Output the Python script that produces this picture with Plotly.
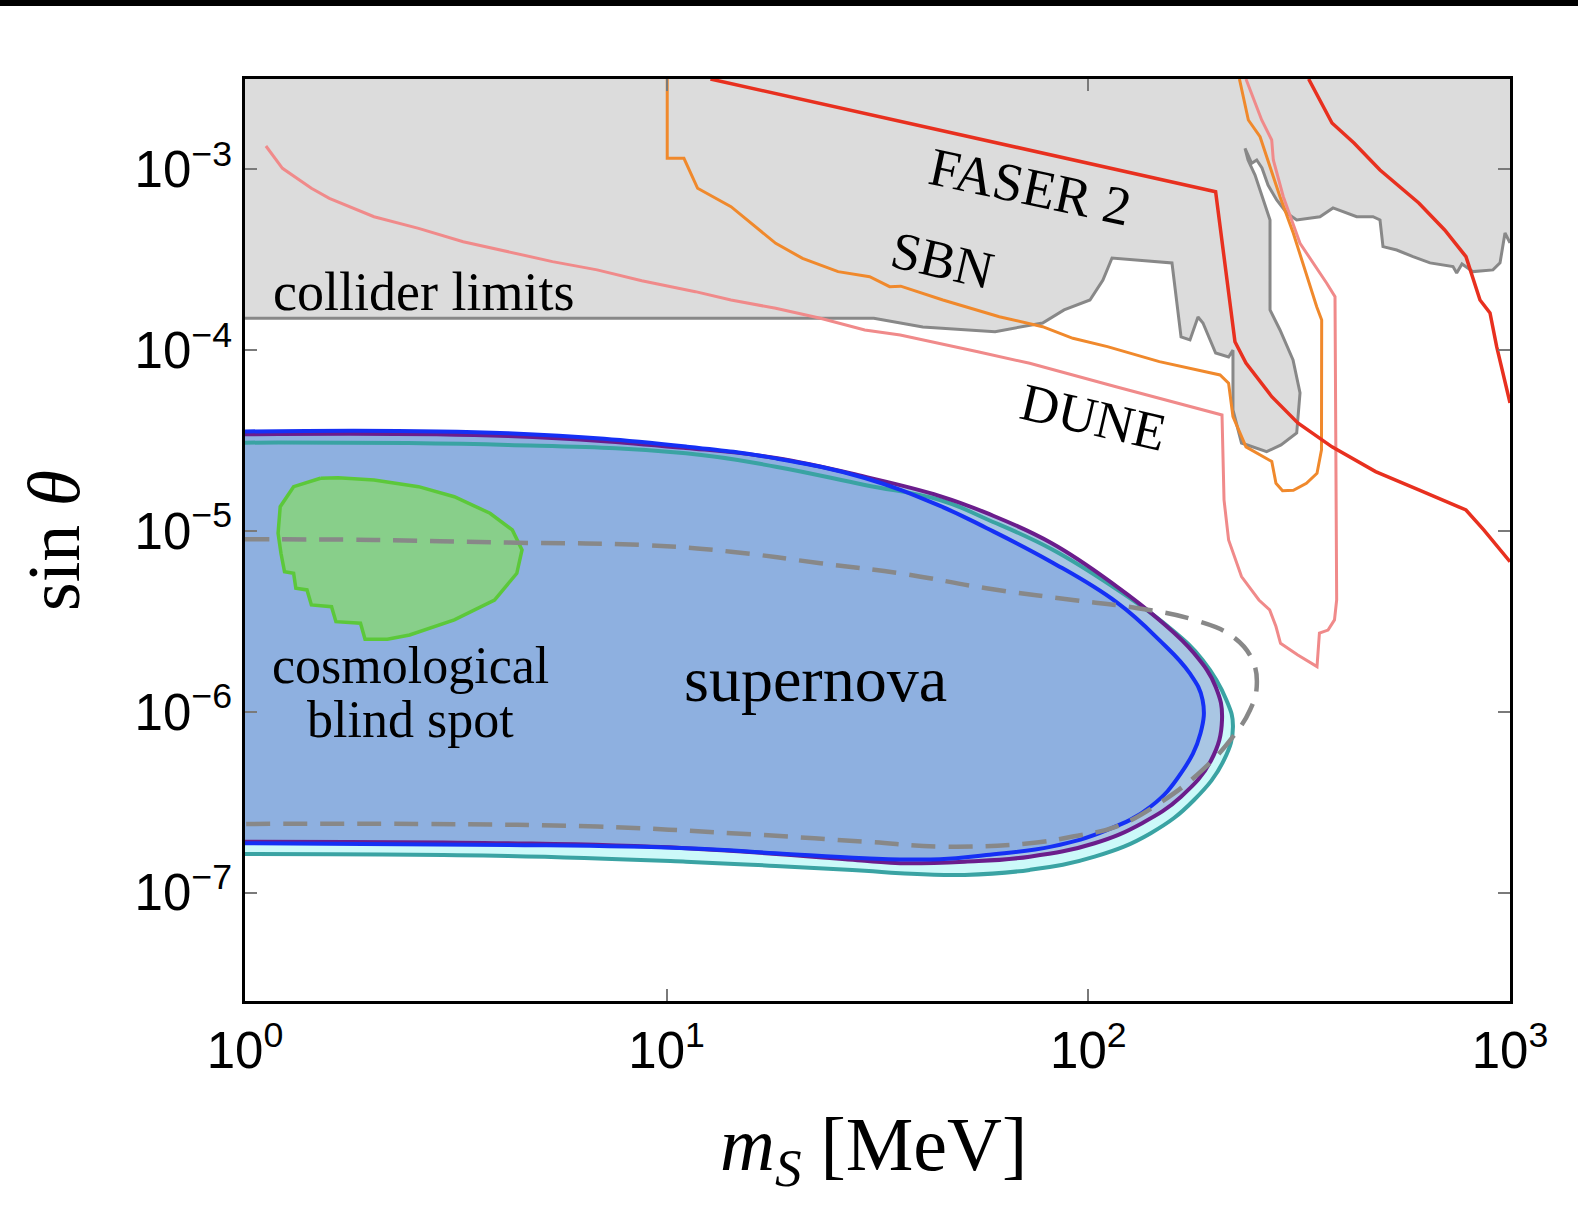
import plotly.graph_objects as go

# ---------------- data (m_S in MeV, sin(theta)) ----------------
collider_m = [1, 1, 31.0, 40.5, 60.1, 77.9, 87.6, 100.9, 108.3, 113.8, 157.9, 165.9, 174.2, 182.0, 187.0,
              200.4, 215.1, 220.3, 220.3, 230.8, 264.8, 286.4, 312.0, 317.7, 305.8, 284.8, 269.7, 269.7,
              258.1, 248.5, 239.2, 235.3, 244.0, 250.8, 258.1, 266.8, 279.7, 295.4, 312.0, 354.3, 380.4,
              432.9, 473.3, 491.7, 499.8, 538.7, 588.9, 646.1, 732.5, 747.4, 769.4, 817.1, 911.3, 947,
              973, 1000, 1000]
collider_s = [3.162e-3, 1.501e-4, 1.501e-4, 1.344e-4, 1.266e-4, 1.414e-4, 1.669e-4, 1.895e-4, 2.445e-4,
              3.236e-4, 3.036e-4, 1.183e-4, 1.139e-4, 1.526e-4, 1.414e-4, 9.65e-5, 9.17e-5, 1.0e-4,
              4.67e-5, 3.067e-5, 2.746e-5, 2.99e-5, 3.48e-5, 5.80e-5, 8.83e-5, 1.293e-4, 1.669e-4,
              5.25e-4, 7.22e-4, 9.31e-4, 1.127e-3, 1.308e-3, 1.081e-3, 1.127e-3, 1.018e-3, 8.19e-4,
              6.77e-4, 5.74e-4, 5.25e-4, 5.47e-4, 6.12e-4, 5.47e-4, 5.47e-4, 5.25e-4, 3.74e-4, 3.58e-4,
              3.29e-4, 3.04e-4, 2.90e-4, 2.67e-4, 3.0e-4, 2.72e-4, 2.78e-4, 3.04e-4, 4.45e-4, 3.92e-4,
              3.162e-3]

faser_m1 = [12.70, 200.4, 222.7, 236.5, 272.3, 313.9, 378.3, 480, 607.7, 786.3, 866.4, 1000]
faser_s1 = [3.162e-3, 7.53e-4, 1.114e-4, 8.49e-5, 5.53e-5, 3.96e-5, 2.92e-5, 2.13e-5, 1.686e-5,
            1.306e-5, 1.013e-5, 6.76e-6]
faser_m2 = [333.0, 378.3, 426.6, 491.7, 607.7, 700, 786.3, 848.9, 896.6, 929.8, 1000]
faser_s2 = [3.162e-3, 1.805e-3, 1.40e-3, 9.92e-4, 6.52e-4, 4.62e-4, 3.29e-4, 1.895e-4, 1.606e-4,
            1.046e-4, 5.11e-5]

sbn_m = [10.03, 10.03, 10.99, 11.84, 14.21, 18.14, 21.0, 25.5, 30.3, 33.8, 35.9, 45.2, 61.5, 77.9, 91.9,
         111.0, 147.4, 205.3, 215.1, 220.3, 236.5, 272.3, 278.6, 288.8, 306.4, 329.0, 348.6, 357.2,
         357.6, 348.0, 306.3, 284.8, 269.7, 255.4, 239.6, 228.2]
sbn_s = [3.162e-3, 1.151e-3, 1.151e-3, 7.86e-4, 6.22e-4, 3.90e-4, 3.22e-4, 2.72e-4, 2.55e-4, 2.245e-4,
         2.26e-4, 1.895e-4, 1.532e-4, 1.349e-4, 1.163e-4, 1.046e-4, 8.64e-5, 7.29e-5, 6.56e-5, 4.29e-5,
         2.92e-5, 2.42e-5, 1.836e-5, 1.671e-5, 1.68e-5, 1.836e-5, 2.085e-5, 2.805e-5, 1.469e-4, 1.74e-4,
         4.43e-4, 7.06e-4, 1.035e-3, 1.517e-3, 1.876e-3, 3.162e-3]

dune_m = [1.121, 1.227, 1.437, 1.585, 2.023, 2.580, 3.292, 4.204, 5.36, 6.84, 8.73, 11.70, 14.21, 18.14,
          23.15, 29.5, 35.8, 54.7, 72.6, 116.3, 207.5, 209.8, 215.1, 230.8, 253.8, 269.2, 278.6, 285.6,
          313.9, 348.6, 353.2, 370.2, 383.5, 388.1, 384.6, 367.6, 317.7, 290.0, 274.6, 272.2, 257.7, 236.5]
dune_s = [1.347e-3, 1.014e-3, 7.86e-4, 6.92e-4, 5.47e-4, 4.72e-4, 3.98e-4, 3.51e-4, 3.09e-4, 2.78e-4,
          2.42e-4, 2.107e-4, 1.895e-4, 1.705e-4, 1.501e-4, 1.293e-4, 1.214e-4, 9.81e-5, 8.46e-5, 6.28e-5,
          4.38e-5, 1.484e-5, 8.92e-6, 5.59e-6, 4.15e-6, 3.66e-6, 2.96e-6, 2.39e-6, 2.06e-6, 1.776e-6,
          2.72e-6, 2.83e-6, 3.22e-6, 4.15e-6, 1.976e-4, 2.344e-4, 3.90e-4, 7.06e-4, 1.127e-3, 1.454e-3,
          1.876e-3, 3.162e-3]

blue_m = [1, 4.205, 11.11, 18.14, 29.5, 44.5, 57.3, 81.7, 116.4, 147.4, 173.9, 186.6, 184.5, 165.9,
          140.6, 111.0, 81.7, 57.3, 44.5, 29.5, 18.14, 11.11, 4.205, 1]
blue_s = [3.55e-5, 3.47e-5, 2.93e-5, 2.52e-5, 1.964e-5, 1.375e-5, 1.039e-5, 6.74e-6, 4.05e-6, 2.49e-6,
          1.633e-6, 1.162e-6, 7.60e-7, 4.57e-7, 2.99e-7, 2.22e-7, 1.795e-7, 1.614e-7, 1.528e-7, 1.547e-7,
          1.65e-7, 1.758e-7, 1.834e-7, 1.874e-7]

purple_m = [1, 4.205, 11.11, 18.14, 29.5, 44.5, 57.3, 81.7, 116.4, 147.4, 178.1, 200.4, 207.5, 195.7,
            165.9, 134.1, 103.5, 72.6, 50.9, 35.8, 29.5, 11.11, 4.205, 1]
purple_s = [3.425e-5, 3.35e-5, 2.877e-5, 2.533e-5, 1.996e-5, 1.56e-5, 1.258e-5, 8.58e-6, 4.96e-6, 3.22e-6,
            2.106e-6, 1.377e-6, 9.01e-7, 5.41e-7, 3.39e-7, 2.42e-7, 1.874e-7, 1.579e-7, 1.482e-7,
            1.452e-7, 1.50e-7, 1.758e-7, 1.874e-7, 1.912e-7]

teal_m = [1, 4.205, 11.11, 18.14, 29.5, 44.5, 57.3, 81.7, 116.4, 154.5, 186.6, 212.5, 220.3, 209.8,
          178.1, 140.6, 103.5, 72.6, 50.9, 35.8, 29.5, 18.14, 11.11, 4.205, 1]
teal_s = [3.08e-5, 2.99e-5, 2.69e-5, 2.268e-5, 1.796e-5, 1.484e-5, 1.165e-5, 7.95e-6, 4.78e-6, 2.96e-6,
          1.934e-6, 1.162e-6, 8.27e-7, 5.41e-7, 3.25e-7, 2.13e-7, 1.579e-7, 1.334e-7, 1.251e-7, 1.279e-7,
          1.321e-7, 1.403e-7, 1.482e-7, 1.594e-7, 1.635e-7]

dash_m = [1, 2.023, 4.205, 8.73, 14.21, 23.15, 35.8, 57.3, 91.9, 131.0, 178.1, 220.3, 244.9, 250.8,
          241.8, 220.3, 186.6, 147.4, 116.4, 91.9, 72.6, 45.2, 29.5, 14.21, 6.84, 2.580, 1]
dash_s = [9.0e-6, 8.92e-6, 8.62e-6, 8.37e-6, 7.68e-6, 6.63e-6, 5.83e-6, 4.82e-6, 4.15e-6, 3.74e-6,
          3.22e-6, 2.60e-6, 1.934e-6, 1.377e-6, 1.023e-6, 7.28e-7, 4.77e-7, 3.12e-7, 2.315e-7, 2.04e-7,
          1.874e-7, 1.795e-7, 1.912e-7, 2.13e-7, 2.315e-7, 2.395e-7, 2.395e-7]

green_m = [1.510, 1.662, 2.023, 2.580, 3.136, 3.811, 4.305, 4.539, 4.412, 3.906, 3.136, 2.457, 2.176, 1.926,
           1.879, 1.643, 1.604, 1.437, 1.403, 1.320, 1.304, 1.241, 1.217, 1.198, 1.212, 1.304, 1.510]
green_s = [1.956e-5, 1.971e-5, 1.914e-5, 1.758e-5, 1.547e-5, 1.253e-5, 1.013e-5, 7.85e-6, 5.83e-6, 4.15e-6,
           3.22e-6, 2.66e-6, 2.52e-6, 2.52e-6, 3.09e-6, 3.15e-6, 3.81e-6, 3.90e-6, 4.72e-6, 4.82e-6,
           5.83e-6, 5.95e-6, 7.53e-6, 9.71e-6, 1.362e-5, 1.758e-5, 1.956e-5]

x_tickvals = [1, 10, 100, 1000]
x_ticktext = ["10<sup>0</sup>", "10<sup>1</sup>", "10<sup>2</sup>", "10<sup>3</sup>"]
y_tickvals = [1e-7, 1e-6, 1e-5, 1e-4, 1e-3]
y_ticktext = ["10<sup>\u22127</sup>", "10<sup>\u22126</sup>", "10<sup>\u22125</sup>",
              "10<sup>\u22124</sup>", "10<sup>\u22123</sup>"]

# ---------------- figure ----------------
SERIF = "Liberation Serif, Times New Roman, serif"
SANS = "Liberation Sans, Arial, sans-serif"
SMOOTH = 1.2

fig = go.Figure()

def line_tr(x, y, color, width, dash=None, shape="linear"):
    ln = dict(color=color, width=width, dash=dash, shape=shape)
    if shape == "spline":
        ln["smoothing"] = SMOOTH
    return go.Scatter(x=x, y=y, mode="lines", hoverinfo="skip", line=ln)

def fill_tr(x, y, color, shape="linear"):
    ln = dict(width=0, shape=shape)
    if shape == "spline":
        ln["smoothing"] = SMOOTH
    return go.Scatter(x=x, y=y, mode="lines", fill="toself", fillcolor=color, hoverinfo="skip",
                      line=ln)

# collider limits
fig.add_trace(fill_tr(collider_m, collider_s, "#dcdcdc"))
fig.add_trace(line_tr(collider_m[1:-1], collider_s[1:-1], "#888888", 3))

# experiments
fig.add_trace(line_tr(dune_m, dune_s, "#f08a8a", 3))
fig.add_trace(line_tr(sbn_m, sbn_s, "#f0892c", 3))
fig.add_trace(line_tr(faser_m1, faser_s1, "#e8301f", 3.5))
fig.add_trace(line_tr(faser_m2, faser_s2, "#e8301f", 3.5))

# supernova regions
fig.add_trace(fill_tr(teal_m, teal_s, "#ccf9f9", "spline"))
fig.add_trace(fill_tr(purple_m, purple_s, "#a9c6e3", "spline"))
fig.add_trace(fill_tr(blue_m, blue_s, "#8eb0e0", "spline"))
fig.add_trace(line_tr(teal_m, teal_s, "#3aa3a3", 4, shape="spline"))
fig.add_trace(line_tr(purple_m, purple_s, "#6b1d8c", 4, shape="spline"))
fig.add_trace(line_tr(blue_m, blue_s, "#1530f5", 4, shape="spline"))

# cosmological blind spot
fig.add_trace(go.Scatter(x=green_m, y=green_s, mode="lines", fill="toself", fillcolor="#88cf8a",
                         hoverinfo="skip", line=dict(color="#5cc83a", width=3.5)))

# dashed contour
fig.add_trace(line_tr(dash_m, dash_s, "#888888", 4.5, dash="24px,13px", shape="spline"))

axis_common = dict(type="log", showgrid=False, zeroline=False, showline=True, linecolor="black",
                   linewidth=2.5, mirror="ticks", ticks="inside", ticklen=12, tickwidth=2,
                   tickcolor="#7a7a7a", tickfont=dict(family=SANS, size=51, color="black"))

fig.update_layout(
    width=1578, height=1206,
    margin=dict(l=245, r=68, t=79, b=205),
    paper_bgcolor="white", plot_bgcolor="white",
    showlegend=False,
    xaxis=dict(range=[0, 3], tickvals=x_tickvals, ticktext=x_ticktext, ticklabelstandoff=3,
               **axis_common),
    yaxis=dict(range=[-7.6, -2.5], tickvals=y_tickvals, ticktext=y_ticktext, ticklabelstandoff=0,
               **axis_common),
)

def ann(text, x, y, size, angle=0):
    fig.add_annotation(text=text, x=x, y=y, xref="paper", yref="paper", showarrow=False,
                       textangle=angle, xanchor="center", yanchor="middle",
                       font=dict(family=SERIF, size=size, color="black"))

ann("collider limits", 0.1413, 0.769, 54)
ann("FASER 2", 0.6212, 0.8832, 54, 12)
ann("SBN", 0.551, 0.8041, 53, 13)
ann("DUNE", 0.6704, 0.6337, 53, 13)
ann("supernova", 0.4506, 0.349, 64)
ann("cosmological", 0.1309, 0.3644, 52)
ann("blind spot", 0.1309, 0.3048, 52)
ann("sin <i>\u03b8</i>", -0.151, 0.5, 74, -90)
ann("<i>m</i><sub><i>S</i></sub> [MeV]", 0.4972, -0.1616, 76)

# black strip at the very top of the image
fig.add_shape(type="rect", xref="paper", yref="paper", x0=-0.2, x1=1.06, y0=1.0792, y1=1.09,
              fillcolor="black", line=dict(width=0), layer="above")

fig.write_html("out.html")
